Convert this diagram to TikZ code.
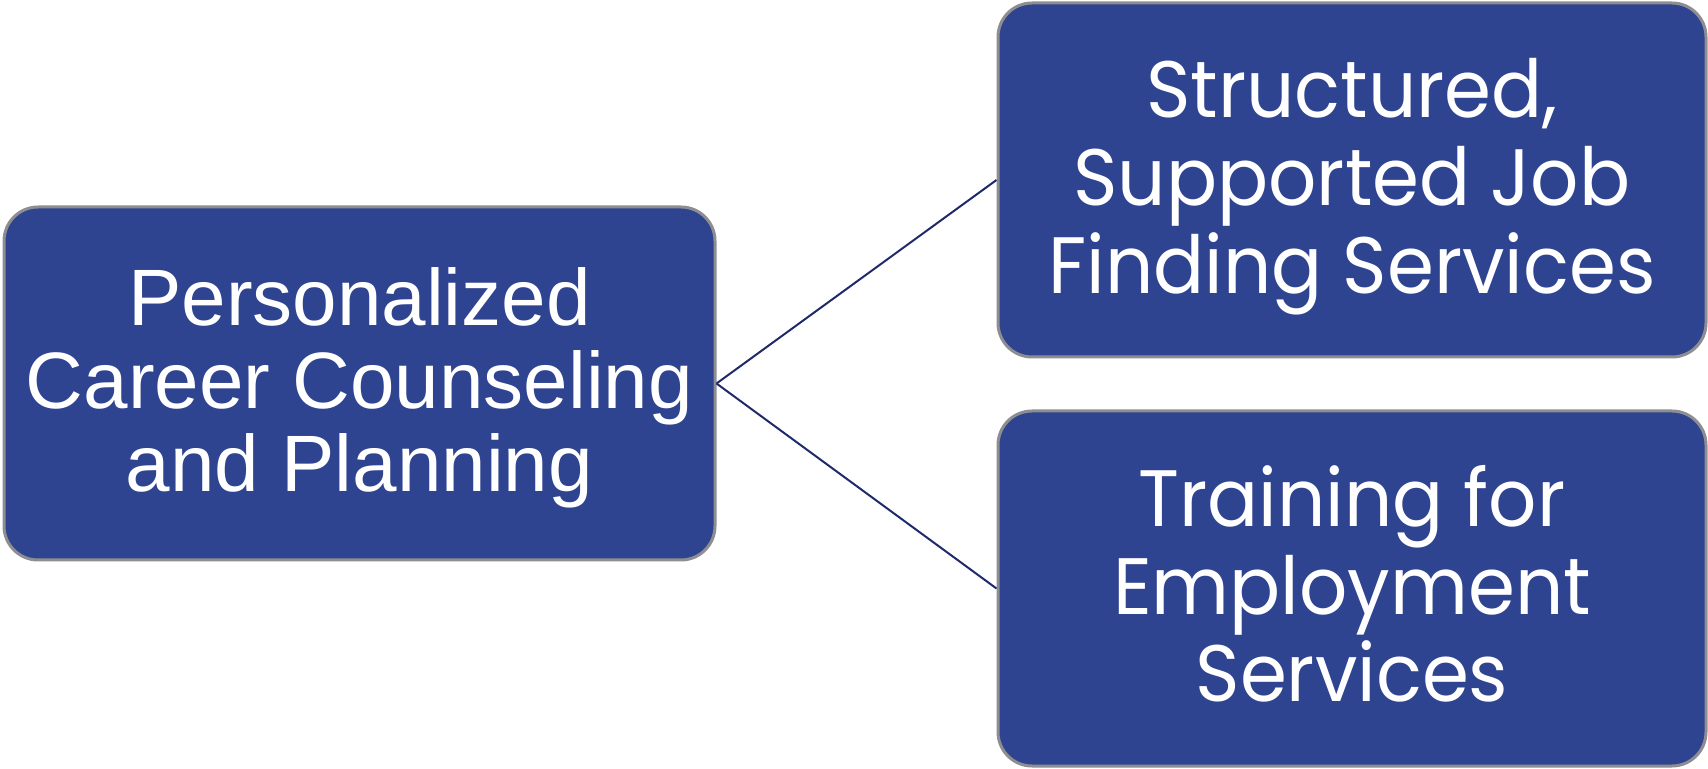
\documentclass[tikz,border=0pt]{standalone}
\usepackage{fontspec}
\setmainfont{Liberation Sans}
\newfontfamily\gothic[FakeStretch=0.945]{Poppins}
\usepackage{tikz}
\usetikzlibrary{positioning}
\definecolor{boxblue}{RGB}{47,68,144}
\definecolor{boxrim}{RGB}{142,142,146}
\definecolor{linknavy}{RGB}{31,42,107}
\tikzset{
  svcbox/.style={draw=boxrim, line width=1.5pt, fill=boxblue, rounded corners=17pt,
    text=white, align=center, inner sep=0pt},
  link/.style={draw=linknavy, line width=1pt}
}
% invisible struts, so the lines sit where they should in the boxes
\newcommand{\uprule}[1]{\rule{0pt}{#1}}
\newcommand{\downrule}[1]{\rule[-#1]{0pt}{0pt}}
\begin{document}
\begin{tikzpicture}[x=0.5pt,y=0.5pt]
    \useasboundingbox (0,0) rectangle (1708,-769);

    \node[svcbox, minimum width=355.5pt, minimum height=176.5pt,
      font=\fontsize{40}{41.35}\selectfont] (plan) at (359.5,-383.5)
      {\uprule{36.9pt}Personalized\\Career Counseling\\and Planning\downrule{12pt}};

    \node[svcbox, minimum width=354pt, minimum height=177pt,
      font=\gothic\fontsize{40}{43.85}\selectfont] (job) at (1352,-180)
      {\uprule{37.7pt}Structured,\\Supported Job\\Finding Services\downrule{12pt}};
    \node[svcbox, minimum width=354pt, minimum height=177.5pt,
      font=\gothic\fontsize{40}{43.85}\selectfont] (train) at (1352,-588.5)
      {\uprule{37.7pt}Training for\\Employment\\Services\downrule{12pt}};

    \draw[link] (plan.east) to (job.west) ;
    \draw[link] (plan.east) to (train.west) ;

\end{tikzpicture}
\end{document}
